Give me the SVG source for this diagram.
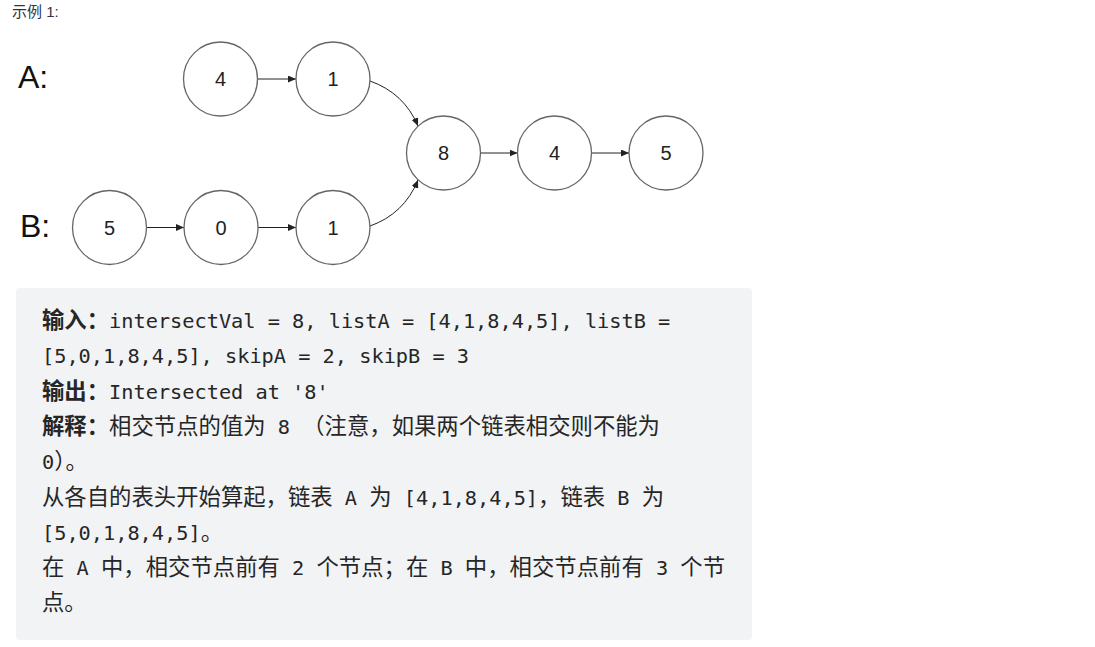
<svg xmlns="http://www.w3.org/2000/svg" width="1095" height="647" viewBox="0 0 1095 647">
<style>
  .node circle { fill: #ffffff; stroke: #666666; stroke-width: 1.3; }
  .node text { font-family: "Liberation Sans", Arial, sans-serif; font-size: 20px; fill: #222222; text-anchor: middle; }
  .lbl { font-family: "Liberation Sans", Arial, sans-serif; font-size: 32px; fill: #111111; }
  .conn { fill: none; stroke: #222222; stroke-width: 1; marker-end: url(#arrow); }
  .title { font-family: "Liberation Sans", "Noto Sans CJK SC", sans-serif; font-size: 15px; fill: #2f3542; }
  .m { font-family: "DejaVu Sans Mono", "Liberation Mono", "Noto Sans CJK SC", monospace; font-size: 20.27px; fill: #262626; }
  .c { font-family: "Noto Sans CJK SC", sans-serif; font-size: 22.36px; }
  .b { font-weight: bold; }
</style>
<defs>
  <marker id="arrow" viewBox="0 0 8 7" refX="8" refY="3.5" markerWidth="8" markerHeight="7" orient="auto" markerUnits="userSpaceOnUse">
    <path d="M0,0 L8,3.5 L0,7 z" fill="#222222"/>
  </marker>
</defs>
<rect width="1095" height="647" fill="#ffffff"/>
<text class="title" x="12" y="17">示例 1:</text>
<text class="lbl" x="18" y="88">A:</text>
<text class="lbl" x="20" y="237">B:</text>

<g id="connectors">
  <line class="conn" x1="257.5" y1="79" x2="296" y2="79"/>
  <path class="conn" d="M370,81 Q404,93 418,126"/>
  <line class="conn" x1="146.5" y1="227.5" x2="184" y2="227.5"/>
  <line class="conn" x1="258" y1="227.5" x2="296" y2="227.5"/>
  <path class="conn" d="M370,226 Q404,214 418,180"/>
  <line class="conn" x1="480.5" y1="153" x2="517.5" y2="153"/>
  <line class="conn" x1="591.5" y1="153" x2="629" y2="153"/>
</g>

<g id="node-a4" class="node"><circle cx="220.5" cy="79" r="37"/><text x="220.5" y="86">4</text></g>
<g id="node-a1" class="node"><circle cx="333" cy="79" r="37"/><text x="333" y="86">1</text></g>
<g id="node-b5" class="node"><circle cx="109.5" cy="227.5" r="37"/><text x="109.5" y="234.5">5</text></g>
<g id="node-b0" class="node"><circle cx="221" cy="227.5" r="37"/><text x="221" y="234.5">0</text></g>
<g id="node-b1" class="node"><circle cx="333" cy="227.5" r="37"/><text x="333" y="234.5">1</text></g>
<g id="node-c8" class="node"><circle cx="443.5" cy="153" r="37"/><text x="443.5" y="160">8</text></g>
<g id="node-c4" class="node"><circle cx="554.5" cy="153" r="37"/><text x="554.5" y="160">4</text></g>
<g id="node-c5" class="node"><circle cx="666" cy="153" r="37"/><text x="666" y="160">5</text></g>

<g id="example-box">
  <rect x="16" y="288" width="736" height="352" rx="4" fill="#f2f3f5"/>
  <text class="m" x="42" y="328" xml:space="preserve"><tspan class="c b">输入：</tspan>intersectVal = 8, listA = [4,1,8,4,5], listB =</text>
  <text class="m" x="42" y="363.3" xml:space="preserve">[5,0,1,8,4,5], skipA = 2, skipB = 3</text>
  <text class="m" x="42" y="398.6" xml:space="preserve"><tspan class="c b">输出：</tspan>Intersected at '8'</text>
  <text class="m" x="42" y="433.9" xml:space="preserve"><tspan class="c b">解释：</tspan><tspan class="c">相交节点的值为</tspan> 8 <tspan class="c">（注意，如果两个链表相交则不能为</tspan></text>
  <text class="m" x="42" y="469.2" xml:space="preserve">0<tspan class="c">）。</tspan></text>
  <text class="m" x="42" y="504.5" xml:space="preserve"><tspan class="c">从各自的表头开始算起，链表</tspan> A <tspan class="c">为</tspan> [4,1,8,4,5]<tspan class="c">，链表</tspan> B <tspan class="c">为</tspan></text>
  <text class="m" x="42" y="539.8" xml:space="preserve">[5,0,1,8,4,5]<tspan class="c">。</tspan></text>
  <text class="m" x="42" y="575.1" xml:space="preserve"><tspan class="c">在</tspan> A <tspan class="c">中，相交节点前有</tspan> 2 <tspan class="c">个节点；在</tspan> B <tspan class="c">中，相交节点前有</tspan> 3 <tspan class="c">个节</tspan></text>
  <text class="m" x="42" y="610.4" xml:space="preserve"><tspan class="c">点。</tspan></text>
</g>
</svg>
